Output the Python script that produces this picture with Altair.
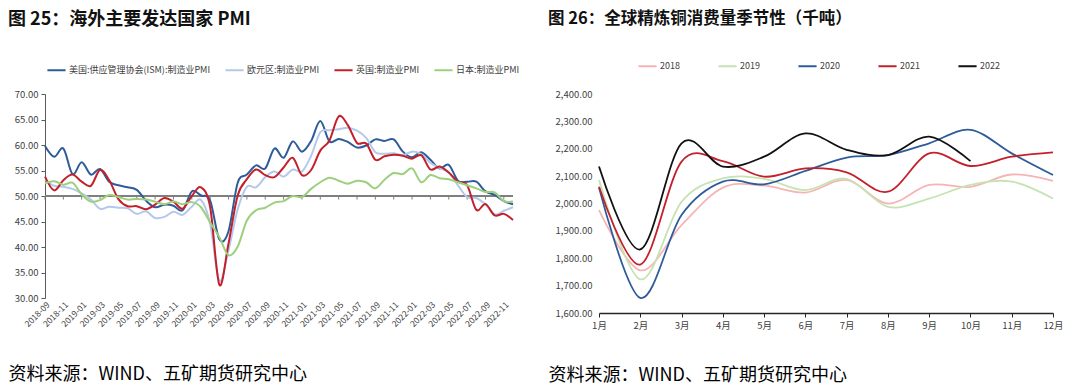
import altair as alt
import pandas as pd

FONT = "Noto Sans CJK SC"
AXIS_GRAY = "#595959"
LABEL_GRAY = "#404040"
SOURCE = "资料来源：WIND、五矿期货研究中心"

# ---------------- left chart: PMI ----------------
pmi_months = [f"{2018 + (8 + i) // 12}-{(8 + i) % 12 + 1:02d}" for i in range(52)]
pmi_label_months = pmi_months[::2]

pmi_series = ["美国:供应管理协会(ISM):制造业PMI", "欧元区:制造业PMI", "英国:制造业PMI", "日本:制造业PMI"]
pmi_colors = ["#2E5C9A", "#B4C9EA", "#C3202B", "#9CD07C"]

us_ism = [59.8, 57.7, 59.3, 54.3,
          56.6, 54.2, 55.3, 52.8, 52.1, 51.7, 51.2, 49.1, 47.8, 48.3, 48.1, 47.2,
          50.9, 50.1, 49.1, 41.5, 43.1, 52.6, 54.2, 56.0, 55.4, 59.3, 57.5, 60.7,
          58.7, 60.8, 64.7, 60.7, 61.2, 60.6, 59.5, 59.9, 61.1, 60.8, 61.1, 58.7,
          57.6, 58.6, 57.1, 55.4, 56.1, 53.0, 52.8, 52.8, 50.9, 50.2, 49.0, 48.4]
euro = [53.2, 52.0, 51.8, 51.4,
        50.5, 49.3, 47.5, 47.9, 47.7, 47.6, 46.5, 47.0, 45.7, 45.9, 46.9, 46.3,
        47.9, 49.2, 44.5, 33.4, 39.4, 47.4, 51.8, 51.7, 53.7, 54.8, 53.8, 55.2,
        54.8, 57.9, 62.5, 62.9, 63.1, 63.4, 62.8, 61.4, 58.6, 58.3, 58.4, 58.0,
        58.7, 58.2, 56.5, 55.5, 54.6, 52.1, 49.8, 49.6, 48.4, 46.4, 47.1, 47.8]
uk = [53.8, 51.1, 53.1, 54.2,
      52.8, 52.0, 55.1, 53.1, 49.4, 48.0, 48.0, 47.4, 48.3, 49.6, 48.9, 47.5,
      50.0, 51.7, 47.8, 32.6, 40.7, 50.1, 53.3, 55.2, 54.1, 53.7, 55.6, 57.5,
      54.1, 55.1, 58.9, 60.9, 65.6, 63.9, 60.4, 60.3, 57.1, 57.8, 58.1, 57.9,
      57.3, 58.0, 55.2, 55.8, 54.6, 52.8, 52.1, 47.3, 48.4, 46.2, 46.5, 45.3]
japan = [52.5, 52.9, 52.2, 52.6,
         50.3, 48.9, 49.2, 50.2, 49.8, 49.3, 49.4, 49.3, 48.9, 48.4, 48.9, 48.4,
         48.8, 47.8, 44.8, 41.9, 38.4, 40.1, 45.2, 47.2, 47.7, 48.7, 49.0, 50.0,
         49.8, 51.4, 52.7, 53.6, 53.0, 52.4, 53.0, 52.7, 51.5, 53.2, 54.5, 54.3,
         55.4, 52.7, 54.1, 53.5, 53.3, 52.7, 52.1, 51.5, 50.8, 50.7, 49.0, 48.9]
pmi_ticks = [30, 35, 40, 45, 50, 55, 60, 65, 70]

rows = []
for name, vals in zip(pmi_series, [us_ism, euro, uk, japan]):
    for m, v in zip(pmi_months, vals):
        rows.append({"month": m, "series": name, "value": v})
pmi_df = pd.DataFrame(rows)

LW, LH = 468, 204
left_x_scale = alt.Scale(type="point", padding=0)
left_y_scale = alt.Scale(domain=[30, 70], nice=False, zero=False)
left_x_axis = alt.Axis(values=pmi_label_months, labelAngle=-45, domain=False, ticks=False,
                       labelFontSize=8.5, labelColor=LABEL_GRAY, labelFont=FONT, labelPadding=2,
                       title=SOURCE, titleX=-37, titleY=76.5, titleAlign="left", titleBaseline="middle",
                       titleFont=FONT, titleFontSize=18, titleFontWeight="normal", titleColor="#000000")
left_y_axis = alt.Axis(values=pmi_ticks, format=".2f", grid=False, domainColor=AXIS_GRAY,
                       tickColor=AXIS_GRAY, tickSize=4, labelPadding=3, labelFontSize=9.5,
                       labelColor=LABEL_GRAY, labelFont=FONT, title=None, minExtent=37, maxExtent=37,
                       labelOverlap=False)

def lx():
    return alt.X("month:O", sort=pmi_months, scale=left_x_scale, axis=left_x_axis)

def ly():
    return alt.Y("value:Q", scale=left_y_scale, axis=left_y_axis)

base_line = alt.Chart(pd.DataFrame({"value": [50]})).mark_rule(color="#7F7F7F", strokeWidth=2).encode(
    y=ly()
)
tick_df = pd.DataFrame({"month": pmi_label_months, "value": [50] * len(pmi_label_months),
                        "value2": [49.3] * len(pmi_label_months)})
tick_marks = alt.Chart(tick_df).mark_rule(color="#7F7F7F", strokeWidth=1).encode(
    x=lx(), y=ly(), y2="value2:Q",
)
pmi_lines = alt.Chart(pmi_df).mark_line(strokeWidth=2, interpolate="cardinal").encode(
    x=lx(), y=ly(),
    color=alt.Color("series:N", sort=pmi_series,
                    scale=alt.Scale(domain=pmi_series, range=pmi_colors),
                    legend=alt.Legend(orient="none", legendX=1, legendY=-34.5, direction="horizontal",
                                      columns=4, columnPadding=10, symbolType="stroke",
                                      symbolSize=330, symbolStrokeWidth=2, labelFontSize=9,
                                      labelFont=FONT, labelColor=LABEL_GRAY, labelOffset=2,
                                      title=None)),
    detail="series:N",
)
left = alt.layer(base_line, tick_marks, pmi_lines).properties(
    width=LW, height=LH,
    title=alt.TitleParams("图 25：海外主要发达国家 PMI", anchor="start", frame="bounds",
                          font=FONT, fontSize=18, fontWeight="bold", color="#111111", offset=31),
)

# ---------------- right chart: copper consumption ----------------
cu_months = ["1月", "2月", "3月", "4月", "5月", "6月", "7月", "8月", "9月", "10月", "11月", "12月"]
cu_years = ["2018", "2019", "2020", "2021", "2022"]
cu_colors = ["#F6B4B6", "#C6E3B4", "#2E5C9A", "#C3202B", "#111111"]
cu_2018 = [1976, 1756, 1921, 2058, 2065, 2040, 2086, 2000, 2068, 2061, 2106, 2083]
cu_2019 = [2086, 1723, 2006, 2092, 2090, 2049, 2090, 1988, 2018, 2068, 2080, 2018]
cu_2020 = [2058, 1655, 1958, 2080, 2070, 2119, 2168, 2177, 2220, 2269, 2183, 2104]
cu_2021 = [2061, 1777, 2153, 2155, 2098, 2128, 2114, 2043, 2183, 2137, 2171, 2187]
cu_2022 = [2135, 1832, 2220, 2135, 2171, 2256, 2196, 2177, 2244, 2155]
cu_ticks = [1600, 1700, 1800, 1900, 2000, 2100, 2200, 2300, 2400]

rows = []
for yr, vals in zip(cu_years, [cu_2018, cu_2019, cu_2020, cu_2021, cu_2022]):
    for m, v in zip(cu_months, vals):
        rows.append({"month": m, "year": yr, "value": v})
cu_df = pd.DataFrame(rows)

RW, RH = 454, 219
cu_lines = alt.Chart(cu_df).mark_line(strokeWidth=1.8, interpolate="cardinal").encode(
    x=alt.X("month:O", sort=cu_months, scale=alt.Scale(type="point", padding=0),
            axis=alt.Axis(labelAngle=0, domainColor="#262626", domainWidth=1.5, tickColor="#262626",
                          tickSize=4, labelFontSize=9.5, labelColor=LABEL_GRAY, labelFont=FONT,
                          labelPadding=3,
                          title=SOURCE, titleX=-51, titleY=62.5, titleAlign="left",
                          titleBaseline="middle", titleFont=FONT, titleFontSize=18,
                          titleFontWeight="normal", titleColor="#000000")),
    y=alt.Y("value:Q", scale=alt.Scale(domain=[1600, 2400], nice=False, zero=False),
            axis=alt.Axis(values=cu_ticks, format=",.2f", grid=False, domain=False, ticks=False,
                          labelPadding=7, labelFontSize=9.5, labelColor=LABEL_GRAY, labelFont=FONT,
                          title=None, minExtent=51, maxExtent=51, labelOverlap=False)),
    color=alt.Color("year:N", sort=cu_years,
                    scale=alt.Scale(domain=cu_years, range=cu_colors),
                    legend=alt.Legend(orient="none", legendX=38, legendY=-38.5, direction="horizontal",
                                      columns=5, columnPadding=34, symbolType="stroke",
                                      symbolSize=330, symbolStrokeWidth=2, labelFontSize=9,
                                      labelFont=FONT, labelColor=LABEL_GRAY, labelOffset=2,
                                      title=None)),
    detail="year:N",
)
right = cu_lines.properties(
    width=RW, height=RH,
    title=alt.TitleParams("图 26：全球精炼铜消费量季节性（千吨）", anchor="start", frame="bounds",
                          font=FONT, fontSize=16.5, fontWeight="bold", color="#111111", offset=28.5),
)

chart = (
    alt.hconcat(left, right, spacing=28)
    .resolve_scale(color="independent", x="independent", y="independent")
    .resolve_legend(color="independent")
    .properties(padding={"left": 0, "top": 2, "right": 0, "bottom": 0})
    .configure_view(stroke=None)
)

chart.save("out.html", embed_options={"renderer": "svg", "actions": False})
